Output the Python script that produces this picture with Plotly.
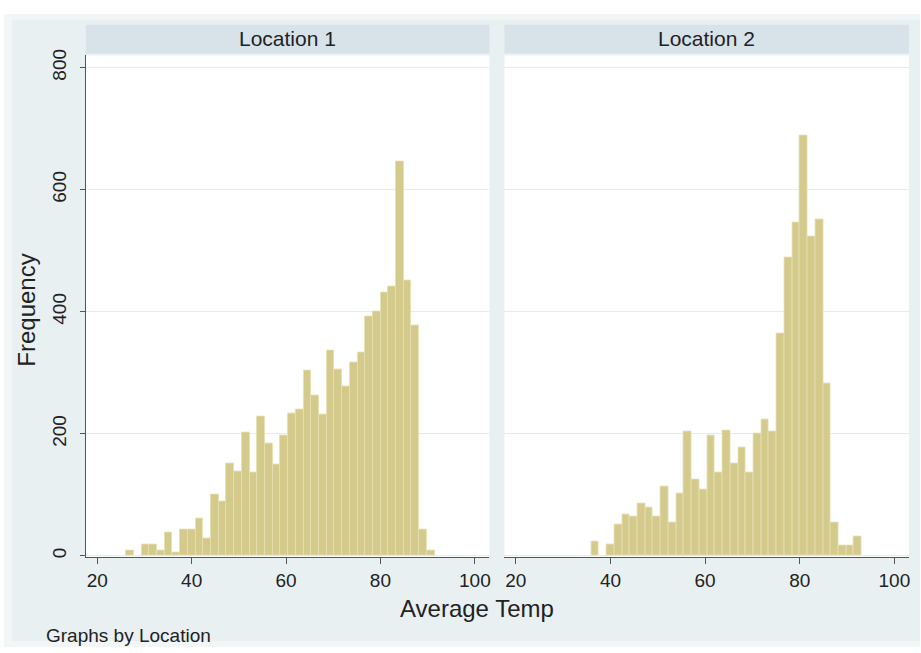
import plotly.graph_objects as go

# Common histogram bins shared by both locations
BIN_START = 26.1
BIN_WIDTH = 1.634
N_BINS = 41

# Frequencies per bin
location_1_counts = [8, 0, 19, 19, 8, 39, 5, 43, 43, 62, 29, 101, 89, 151, 139,
                     202, 137, 228, 184, 150, 197, 234, 240, 304, 263, 232, 336,
                     306, 278, 317, 333, 392, 401, 432, 442, 646, 452, 378, 43, 8, 0]
location_2_counts = [0, 0, 0, 0, 0, 0, 23, 0, 18, 52, 67, 64, 85, 79, 64, 113, 55,
                     103, 204, 125, 108, 198, 137, 206, 152, 178, 137, 201, 223, 204,
                     364, 489, 546, 689, 523, 552, 282, 55, 17, 17, 31]

panel_titles = ["Location 1", "Location 2"]
x_ticks = [20, 40, 60, 80, 100]
y_ticks = [0, 200, 400, 600, 800]

bin_centers = [BIN_START + BIN_WIDTH * (i + 0.5) for i in range(N_BINS)]

W, H = 921, 653
FONT = "Liberation Sans, Arial, sans-serif"
BAR_FILL = "#d4ca8c"
BAR_EDGE = "#e6e0b2"
OUTER_BG = "#e9f0f2"
STRIP_BG = "#d7e3e9"
GRID = "#e6ecee"
AXIS = "#555555"
TEXT = "#222222"


def px_x(v):
    return v / W


def px_y(v):
    return 1 - v / H


panels = [(86, 490), (505, 910)]
plot_top, plot_bottom = 50, 557

fig = go.Figure()
for i, counts in enumerate([location_1_counts, location_2_counts]):
    fig.add_trace(go.Bar(
        x=bin_centers, y=counts, width=BIN_WIDTH,
        marker=dict(color=BAR_FILL,
                    line=dict(color=BAR_EDGE,
                              width=[0.8 if c > 0 else 0 for c in counts])),
        xaxis="x" if i == 0 else "x2", yaxis="y" if i == 0 else "y2",
        showlegend=False, hoverinfo="x+y",
    ))

xaxis_common = dict(
    range=[17.6, 103.1], tickvals=x_ticks, ticks="outside", ticklen=6,
    tickcolor=AXIS, showline=True, linecolor=AXIS, linewidth=1,
    showgrid=False, zeroline=False,
    tickfont=dict(family=FONT, size=19, color=TEXT),
)
yaxis_common = dict(
    range=[-2, 820], tickvals=y_ticks, showgrid=True, gridcolor=GRID,
    gridwidth=1, zeroline=False,
)

fig.update_layout(
    width=W, height=H,
    margin=dict(l=0, r=0, t=0, b=0),
    paper_bgcolor="white",
    plot_bgcolor="white",
    bargap=0,
    xaxis=dict(domain=[px_x(panels[0][0]), px_x(panels[0][1])], anchor="y", **xaxis_common),
    xaxis2=dict(domain=[px_x(panels[1][0]), px_x(panels[1][1])], anchor="y2", **xaxis_common),
    yaxis=dict(domain=[px_y(plot_bottom), px_y(plot_top)], anchor="x",
               showline=True, linecolor=AXIS, linewidth=1, ticks="outside",
               ticklen=5, tickcolor=AXIS, tickangle=-90,
               ticklabelstandoff=6,
               tickfont=dict(family=FONT, size=19, color=TEXT),
               **yaxis_common),
    yaxis2=dict(domain=[px_y(plot_bottom), px_y(plot_top)], anchor="x2",
                showline=False, showticklabels=False, ticks="",
                matches="y", **yaxis_common),
)

shapes = [
    # graph region background with a soft light edge
    dict(type="rect", xref="paper", yref="paper", layer="below",
         x0=px_x(4), x1=px_x(921), y0=px_y(648), y1=px_y(8),
         fillcolor="#f2f6f7", line=dict(width=0)),
    dict(type="rect", xref="paper", yref="paper", layer="below",
         x0=px_x(12), x1=px_x(921), y0=px_y(642), y1=px_y(14),
         fillcolor=OUTER_BG, line=dict(width=0)),
]
annotations = []
for (x0, x1), title in zip(panels, panel_titles):
    # white plot region
    shapes.append(dict(type="rect", xref="paper", yref="paper", layer="below",
                       x0=px_x(x0), x1=px_x(x1), y0=px_y(plot_bottom), y1=px_y(plot_top),
                       fillcolor="white", line=dict(width=0)))
    # panel header strip
    shapes.append(dict(type="rect", xref="paper", yref="paper", layer="below",
                       x0=px_x(x0), x1=px_x(x1), y0=px_y(48), y1=px_y(19),
                       fillcolor=STRIP_BG, line=dict(width=0)))
    annotations.append(dict(xref="paper", yref="paper", x=px_x((x0 + x1) / 2),
                            y=px_y(33), text=title, showarrow=False,
                            xanchor="center", yanchor="middle",
                            font=dict(family=FONT, size=21, color=TEXT)))

annotations += [
    dict(xref="paper", yref="paper", x=px_x(478), y=px_y(609), text="Average Temp",
         showarrow=False, xanchor="center", yanchor="middle",
         font=dict(family=FONT, size=24, color=TEXT)),
    dict(xref="paper", yref="paper", x=px_x(27), y=px_y(307), text="Frequency",
         showarrow=False, textangle=-90, xanchor="center", yanchor="middle",
         font=dict(family=FONT, size=24, color=TEXT)),
    dict(xref="paper", yref="paper", x=px_x(44), y=px_y(636), text="Graphs by Location",
         showarrow=False, xanchor="left", yanchor="middle",
         font=dict(family=FONT, size=19, color=TEXT)),
]

fig.update_layout(shapes=shapes, annotations=annotations)
fig.write_html("out.html")
